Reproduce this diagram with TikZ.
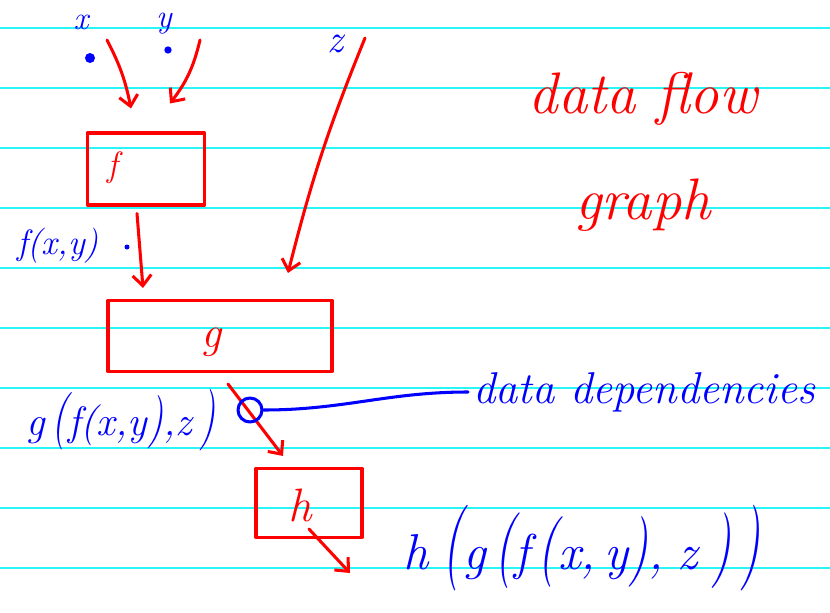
\documentclass[tikz,border=0pt]{standalone}
\usetikzlibrary{arrows.meta}
\definecolor{penred}{RGB}{255,0,0}
\definecolor{penblue}{RGB}{0,0,255}
\definecolor{ruleline}{RGB}{40,245,245}
\newcommand\tallpar[2]{\scalebox{1}[#1]{#2}}
\begin{document}
\begin{tikzpicture}[x=.03cm, y=-.03cm, line width=2.6pt, line cap=round, line join=round,
  every node/.style={font=\fontsize{30}{36}\selectfont\itshape},
  flow/.style={draw=penred, -{Straight Barb[length=9pt, width=16pt]}},
  fbox/.style={draw=penred, inner sep=0pt},
  inkr/.style={text=penred},
  inkb/.style={text=penblue},
  indot/.style={circle, fill=penblue, inner sep=0pt}]
  \fill[white] (0,0) rectangle (830,613);
  \useasboundingbox (0,0) rectangle (830,613);
  \foreach \y in {28,88,...,568}
    \draw[ruleline, line width=1.6pt] (0,\y) -- (830,\y);

  % inputs
  \node[indot, minimum size=.3cm] (x) at (90,58) {};
  \node[indot, minimum size=.22cm] (y) at (168,50) {};
  \node[inkb, font=\fontsize{28}{30}\selectfont\itshape] (xlab) at (81,22) {x};
  \node[inkb, font=\fontsize{28}{30}\selectfont\itshape] (ylab) at (164,24) {y};
  \node[inkb, font=\fontsize{34}{40}\selectfont\itshape] (zlab) at (335,44) {z};

  % operations
  \node[fbox, minimum width=3.51cm, minimum height=2.16cm] (f) at (146,169) {};
  \node[inkr] (flab) at (113,168) {f};
  \node[fbox, minimum width=6.72cm, minimum height=2.13cm] (g) at (220,336) {};
  \node[inkr, font=\fontsize{38}{40}\selectfont\itshape] (glab) at (212,342) {g};
  \node[fbox, minimum width=3.18cm, minimum height=2.07cm] (h) at (309,503) {};
  \node[inkr, font=\fontsize{40}{44}\selectfont\itshape] (hlab) at (300,505) {h};

  \coordinate (x0) at (107,40);
  \coordinate (y0) at (200,40);
  \coordinate (z0) at (365,38);
  \coordinate (hout) at (350,573);
  \draw[flow] (x0) to[bend left=8] ([xshift=-.45cm, yshift=.69cm]f.north);
  \draw[flow] (y0) to[bend left=12] ([xshift=.72cm, yshift=.84cm]f.north);
  \draw[flow] ([xshift=-.27cm, yshift=-.21cm]f.south) -- ([xshift=-2.31cm, yshift=.33cm]g.north);
  \draw[flow] (z0) to[bend right=4] ([xshift=2.04cm, yshift=.78cm]g.north);
  \draw[flow] ([xshift=.24cm, yshift=-.33cm]g.south) -- ([xshift=-.78cm, yshift=.33cm]h.north);
  \draw[flow] ([yshift=.3cm]h.south) -- (hout);

  % values
  \node[inkb] (fxy) at (58,246) {f(x,y)};
  \node[indot, minimum size=.15cm] (fdot) at (127,247) {};
  \node[inkb, font=\fontsize{35}{40}\selectfont\itshape] (gfz) at (121,420)
    {g\,\tallpar{1.4}{(}f(x,y\tallpar{1.3}{)},z\,\tallpar{1.5}{)}};
  \node[inkb, font=\fontsize{43}{48}\selectfont\itshape] (hgfz) at (582,548)
    {h\;\tallpar{1.7}{(}g\,\tallpar{1.5}{(}f\,\tallpar{1.4}{(}x,\,y\tallpar{1.4}{)},\;z\;\tallpar{1.5}{)}\,\tallpar{1.7}{)}};

  % dependencies
  \node[circle, draw=penblue, minimum size=.72cm, inner sep=0pt] (dep) at (250,410) {};
  \node[inkb, anchor=west, font=\fontsize{38}{40}\selectfont\itshape] (deplab) at (468,392) {data dependencies};
  \draw[penblue] (dep.east) to[out=0, in=180] (deplab.west);

  \node[inkr, align=center, font=\fontsize{50}{90}\selectfont\itshape] (title) at (643,152) {data flow\\graph};
\end{tikzpicture}
\end{document}
